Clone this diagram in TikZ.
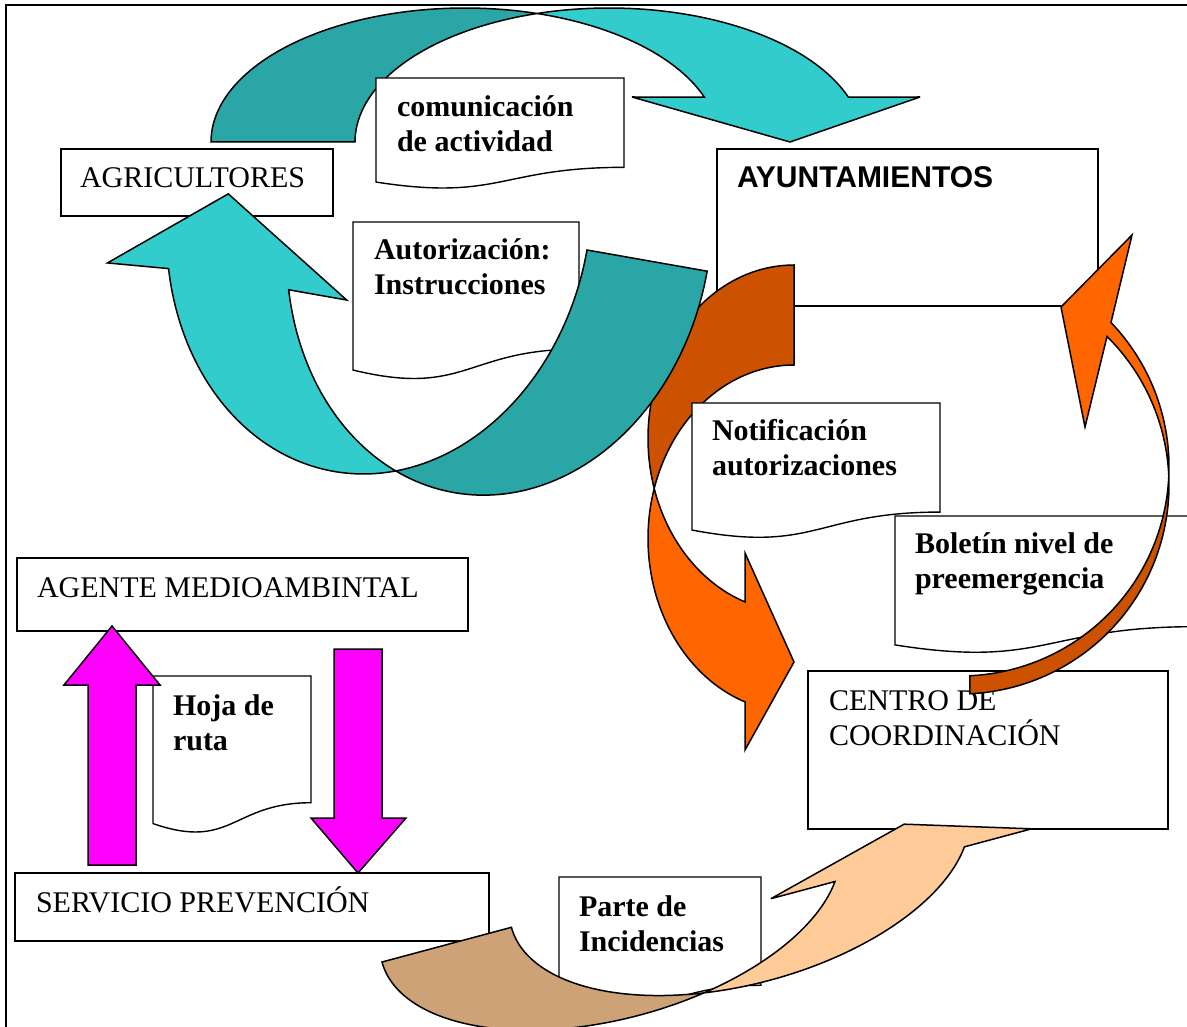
\documentclass[tikz,border=0pt]{standalone}
\usepackage{fontspec}
\setmainfont{Liberation Serif}
\newfontfamily\arialfont{Liberation Sans}
\definecolor{teallight}{HTML}{33CCCC}
\definecolor{tealdark}{HTML}{2AA6A6}
\definecolor{orangelight}{HTML}{FF6600}
\definecolor{orangedark}{HTML}{CC5200}
\definecolor{tanlight}{HTML}{FFCC99}
\definecolor{tandark}{HTML}{CDA277}
\definecolor{magentafill}{HTML}{FF00FF}
\newcommand{\dualline}[2]{\vtop{\baselineskip=35pt\lineskiplimit=-100pt\lineskip=0pt\hbox{#1}\hbox{#2}}}
\newcommand{\docshape}[4]{%
  \filldraw[docst] (#1,#3) -- (#2,#3) -- (#2,{#3+0.802*#4})
    .. controls ({(#1+#2)/2},{#3+0.802*#4}) and ({(#1+#2)/2},{#3+1.1075*#4}) ..
    (#1,{#3+0.934*#4}) -- cycle;}
\begin{document}
\begin{tikzpicture}[x=1pt,y=-1pt,
  outl/.style={draw=black,line width=1.5pt,line join=miter,miter limit=6},
  boxst/.style={draw=black,line width=1.4pt,fill=white,anchor=north west,inner sep=0pt,outer sep=0pt},
  docst/.style={draw=black,line width=1.4pt,fill=white},
  lbl/.style={anchor=base west,inner sep=0pt,outer sep=0pt,font=\fontsize{30}{35}\selectfont},
  blbl/.style={anchor=base west,inner sep=0pt,outer sep=0pt,font=\fontsize{30}{35}\selectfont\bfseries},
  ]
\fill[white] (0,0) rectangle (1187,1027);
\useasboundingbox (0,0) rectangle (1187,1027);
\draw[line width=2pt] (6,1030) -- (6,5) -- (1190,5);

% ---------- boxes ----------
\node[boxst,minimum width=272,minimum height=67] (agri) at (61,149) {};
\node[lbl] (agri-t) at (80,188) {AGRICULTORES};
\node[boxst,minimum width=381,minimum height=157] (ayunt) at (717,149) {};
\node[lbl,font=\fontsize{30}{35}\selectfont\arialfont\bfseries] (ayunt-t) at (737,188) {AYUNTAMIENTOS};
\node[boxst,minimum width=451,minimum height=73] (agente) at (17,558) {};
\node[lbl] (agente-t) at (37,597) {AGENTE MEDIOAMBINTAL};
\node[boxst,minimum width=474,minimum height=68] (servicio) at (15,873) {};
\node[lbl] (servicio-t) at (36,912) {SERVICIO PREVENCIÓN};
\node[boxst,minimum width=360,minimum height=158] (centro) at (808,671) {};
\node[lbl] (centro-t) at (829,710) {\dualline{CENTRO DE}{COORDINACIÓN}};

% ---------- top teal arrow (AGRICULTORES -> AYUNTAMIENTOS) ----------
\filldraw[outl,fill=tealdark]
  plot[domain=180:73.5,samples=70,variable=\t] ({465+254*cos(\t)},{142-134*sin(\t)})
  -- plot[domain=106.5:180,samples=40,variable=\t] ({609+254*cos(\t)},{142-134*sin(\t)})
  -- cycle;
\filldraw[outl,fill=teallight]
  plot[domain=106.5:19.6,samples=70,variable=\t] ({609+254*cos(\t)},{142-134*sin(\t)})
  -- (920,97) -- (790,142) -- (632,97)
  -- plot[domain=19.6:73.5,samples=40,variable=\t] ({465+254*cos(\t)},{142-134*sin(\t)})
  -- cycle;

\docshape{376}{624}{78}{111.4}
\node[blbl] (comun-t) at (397,117) {\dualline{comunicación}{de actividad}};

\docshape{353}{579}{222}{158.5}
\node[blbl] (autor-t) at (374,260) {\dualline{Autorización:}{Instrucciones}};

% ---------- orange C arrow (AYUNTAMIENTOS -> CENTRO) ----------
\filldraw[outl,fill=orangedark]
  plot[domain=90:196.75,samples=60,variable=\t] ({794+146*cos(\t)},{438.5-173.5*sin(\t)})
  -- plot[domain=163.25:90,samples=60,variable=\t] ({794+146*cos(\t)},{538.5-173.5*sin(\t)})
  -- cycle;
\filldraw[outl,fill=orangelight]
  plot[domain=163.25:250.39,samples=60,variable=\t] ({794+146*cos(\t)},{538.5-173.5*sin(\t)})
  -- (745,750) -- (794,662) -- (745,553)
  -- plot[domain=250.39:196.75,samples=40,variable=\t] ({794+146*cos(\t)},{438.5-173.5*sin(\t)})
  -- cycle;

\docshape{692}{940}{403}{136}
\node[blbl] (notif-t) at (712,440) {\dualline{Notificación}{autorizaciones}};

% ---------- teal U arrow (AYUNTAMIENTOS -> AGRICULTORES) ----------
\begin{scope}[shift={(587,250)},rotate=-10]
\filldraw[outl,fill=tealdark]
  plot[domain=0:106.8,samples=70,variable=\t] ({-89+211*cos(\t)},{262*sin(\t)})
  -- plot[domain=73.2:0,samples=60,variable=\t] ({-211+211*cos(\t)},{262*sin(\t)})
  -- cycle;
\filldraw[outl,fill=teallight]
  plot[domain=73.2:159.68,samples=70,variable=\t] ({-211+211*cos(\t)},{262*sin(\t)})
  -- (-470,96) -- (-363,7) -- (-228,91)
  -- plot[domain=159.68:106.8,samples=50,variable=\t] ({-89+211*cos(\t)},{262*sin(\t)})
  -- cycle;
\end{scope}

% ---------- Boletin + thin orange arrow (CENTRO -> AYUNTAMIENTOS) ----------
\docshape{895}{1195}{516}{138}
\node[blbl] (bolet-t) at (915,553) {\dualline{Boletín nivel de}{preemergencia}};

\filldraw[outl,fill=orangedark]
  plot[domain=-87.3:2.47,samples=60,variable=\t] ({960+209*cos(\t)},{485-209*sin(\t)})
  -- plot[domain=-2.47:-87.3,samples=60,variable=\t] ({960+209*cos(\t)},{467-209*sin(\t)})
  -- cycle;
\filldraw[outl,fill=orangelight]
  plot[domain=-2.47:43.74,samples=50,variable=\t] ({960+209*cos(\t)},{467-209*sin(\t)})
  -- (1132,235) -- (1061,307) -- (1085,427)
  -- plot[domain=45.3:2.47,samples=50,variable=\t] ({960+209*cos(\t)},{485-209*sin(\t)})
  -- cycle;

% ---------- Hoja de ruta + magenta arrows ----------
\docshape{153}{311}{676}{158}
\node[blbl] (hoja-t) at (173,715) {\dualline{Hoja de}{ruta}};
\filldraw[outl,fill=magentafill]
  (88,865) -- (88,685) -- (64,685) -- (112,626) -- (160,685) -- (136,685) -- (136,865) -- cycle;
\filldraw[outl,fill=magentafill]
  (334,649) -- (382,649) -- (382,818) -- (406,818) -- (358,873) -- (311,818) -- (334,818) -- cycle;

% ---------- Parte de incidencias + tan arrow (SERVICIO -> CENTRO) ----------
\docshape{559}{761}{877}{135}
\node[blbl] (parte-t) at (579,916) {\dualline{Parte de}{Incidencias}};
\begin{scope}[shift={(382,962)},rotate=15]
\filldraw[outl,fill=tandark]
  plot[domain=180:73.5,samples=70,variable=\t] ({236+236*cos(\t)},{118*sin(\t)})
  -- plot[domain=106.5:180,samples=50,variable=\t] ({370+236*cos(\t)},{118*sin(\t)})
  -- cycle;
\filldraw[outl,fill=tanlight]
  plot[domain=106.5:19.56,samples=70,variable=\t] ({370+236*cos(\t)},{118*sin(\t)})
  -- (662,39.5) -- (540,2) -- (392,39.5)
  -- plot[domain=19.56:73.5,samples=50,variable=\t] ({236+236*cos(\t)},{118*sin(\t)})
  -- cycle;
\end{scope}
\end{tikzpicture}
\end{document}
